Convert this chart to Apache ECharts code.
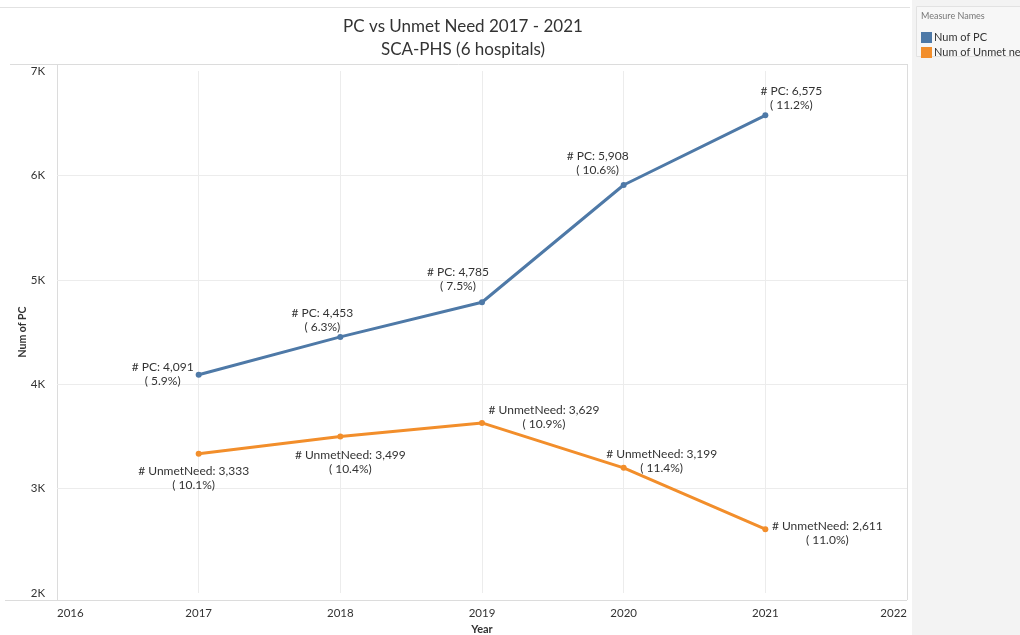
<!DOCTYPE html>
<html><head><meta charset="utf-8">
<script src="https://cdn.jsdelivr.net/npm/echarts@6/dist/echarts.min.js"></script>
<style>html,body{margin:0;padding:0;background:#fff}#c{width:1020px;height:635px}</style>
</head><body><div id="c"></div>
<script>
var years = [2017, 2018, 2019, 2020, 2021];
var pcValues = [4091, 4453, 4785, 5908, 6575];
var pcPct = ['5.9%', '6.3%', '7.5%', '10.6%', '11.2%'];
var unmetValues = [3333, 3499, 3629, 3199, 2611];
var unmetPct = ['10.1%', '10.4%', '10.9%', '11.4%', '11.0%'];
var yTickLabels = ['2K', '3K', '4K', '5K', '6K', '7K'];
var seriesNames = ['Num of PC', 'Num of Unmet need'];

var pcLabelOffsets = [[-36, -1], [-18, -17], [-24, -23], [-26, -22], [26, -17]];
var unmetLabelOffsets = [[-5, 24], [10, 26], [62, -6], [38, -7], [62, 4]];

function fmt(n){ return n.toString().replace(/\B(?=(\d{3})+(?!\d))/g, ','); }

var FONT = 'Lato, "Noto Sans", sans-serif';
var TXT = '#333';

function buildData(vals, pct, offs, prefix){
  return years.map(function(y, i){
    return {
      value: [y, vals[i]],
      label: {
        show: true, position: 'inside', offset: offs[i],
        align: 'center', verticalAlign: 'middle',
        formatter: prefix + fmt(vals[i]) + '\n( ' + pct[i] + ')',
        color: TXT, fontSize: 12, lineHeight: 14, fontFamily: FONT
      }
    };
  });
}

var chart = echarts.init(document.getElementById('c'), null, {renderer: 'canvas'});
var gL = 57, gR = 907, gT = 64, gB = 600;
chart.setOption({
  animation: false,
  backgroundColor: '#fff',
  title: {
    text: 'PC vs Unmet Need 2017 - 2021\nSCA-PHS (6 hospitals)',
    left: 458, top: 10, textAlign: 'center',
    textStyle: {fontSize: 17, fontWeight: 'normal', color: '#333', lineHeight: 23, fontFamily: FONT}
  },
  legend: {
    orient: 'vertical', left: 916, top: 27, itemWidth: 11, itemHeight: 11, itemGap: 4,
    icon: 'rect', data: seriesNames,
    textStyle: {fontSize: 11, color: '#333', fontFamily: FONT, padding: [0,0,0,-3]}
  },
  grid: {left: gL, right: 1020 - gR, top: 71, bottom: 635 - 593, outerBoundsMode: 'none', containLabel: false},
  xAxis: {
    type: 'value', min: 2016, max: 2022, interval: 1,
    name: 'Year', nameLocation: 'middle', nameGap: 31, nameMoveOverlap: false,
    nameTextStyle: {fontWeight: 'bold', fontSize: 11, color: '#333', fontFamily: FONT},
    axisLine: {show: false}, axisTick: {show: false},
    axisLabel: {formatter: function(v){return String(v);}, margin: 14, fontSize: 11.5, color: '#333', fontFamily: FONT,
      alignMinLabel: 'left', alignMaxLabel: 'right'},
    splitLine: {show: true, lineStyle: {color: ['transparent', '#ececec', '#ececec', '#ececec', '#ececec', '#ececec', 'transparent'], width: 1}}
  },
  yAxis: {
    type: 'value', min: 2000, max: 7000, interval: 1000,
    name: 'Num of PC', nameLocation: 'middle', nameGap: 29, nameRotate: 90, nameMoveOverlap: false,
    nameTextStyle: {fontWeight: 'bold', fontSize: 10.5, color: '#333', fontFamily: FONT},
    axisLine: {show: false}, axisTick: {show: false},
    axisLabel: {formatter: function(v){ return yTickLabels[Math.round((v - 2000) / 1000)]; }, margin: 12, fontSize: 11.5, color: '#333', fontFamily: FONT},
    splitLine: {show: true, lineStyle: {color: ['transparent', '#ececec', '#ececec', '#ececec', '#ececec', 'transparent'], width: 1}}
  },
  graphic: [
    {type: 'rect', shape: {x: 912, y: 0, width: 108, height: 635}, style: {fill: '#f3f3f3'}, z: -10},
    {type: 'rect', shape: {x: 916.5, y: 6.5, width: 110, height: 50}, style: {fill: '#f7f7f7', stroke: '#e2e2e2', lineWidth: 1}, z: -9},
    {type: 'text', left: 921, top: 12, style: {text: 'Measure Names', fontSize: 9, fill: '#777', fontFamily: FONT}},
    {type: 'line', shape: {x1: 0, y1: 7.5, x2: 910, y2: 7.5}, style: {stroke: '#e2e2e2', lineWidth: 1}},
    {type: 'line', shape: {x1: 10, y1: 64.5, x2: gR, y2: 64.5}, style: {stroke: '#dcdcdc', lineWidth: 1}},
    {type: 'line', shape: {x1: 5, y1: 600.5, x2: gR, y2: 600.5}, style: {stroke: '#dcdcdc', lineWidth: 1}},
    {type: 'line', shape: {x1: gL + 0.5, y1: 64, x2: gL + 0.5, y2: 600}, style: {stroke: '#dcdcdc', lineWidth: 1}},
    {type: 'line', shape: {x1: gR + 0.5, y1: 64, x2: gR + 0.5, y2: 600}, style: {stroke: '#dcdcdc', lineWidth: 1}}
  ],
  series: [
    {name: seriesNames[0], type: 'line', data: buildData(pcValues, pcPct, pcLabelOffsets, '# PC: '),
     color: '#4e79a7', lineStyle: {width: 3, color: '#4e79a7'}, symbol: 'circle', symbolSize: 6,
     itemStyle: {color: '#4e79a7'}},
    {name: seriesNames[1], type: 'line', data: buildData(unmetValues, unmetPct, unmetLabelOffsets, '# UnmetNeed: '),
     color: '#f28e2b', lineStyle: {width: 3, color: '#f28e2b'}, symbol: 'circle', symbolSize: 6,
     itemStyle: {color: '#f28e2b'}}
  ]
});
</script></body></html>
